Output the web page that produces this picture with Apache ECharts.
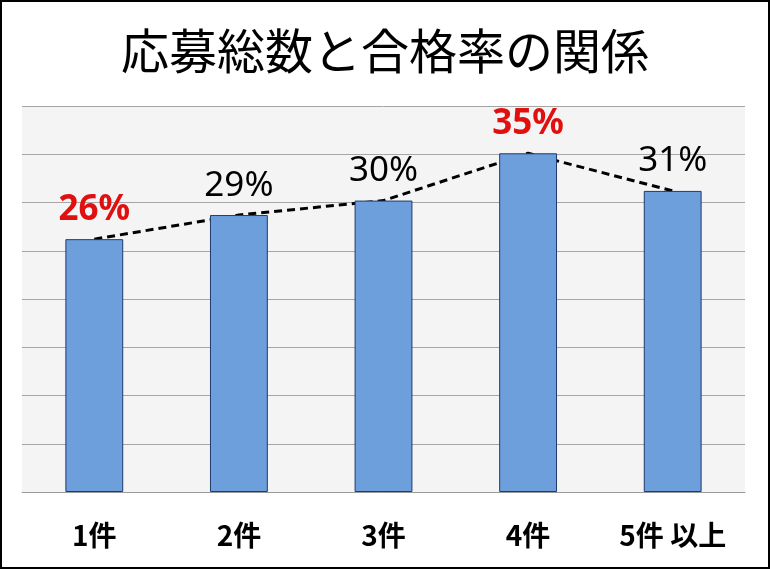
<!DOCTYPE html>
<html>
<head>
<meta charset="utf-8">
<script src="https://cdn.jsdelivr.net/npm/echarts@6/dist/echarts.min.js"></script>
<style>
html,body{margin:0;padding:0;background:#fff;}
#c{width:770px;height:569px;}
</style>
</head>
<body>
<div id="c"></div>
<script>
const titleText = '応募総数と合格率の関係';
const categories = ['1件', '2件', '3件', '4件', '5件 以上'];
const passRates = [26.2, 28.7, 30.2, 35.1, 31.2];
const yTicks = [0, 5, 10, 15, 20, 25, 30, 35, 40];

const maxV = Math.max(...passRates);
const minV = Math.min(...passRates);

const barData = passRates.map(v => {
  const hi = (v === maxV || v === minV);
  return {
    value: v,
    label: hi ? { color: '#e01010', fontWeight: 'bold' } : { color: '#000', fontWeight: 'normal' }
  };
});

const chart = echarts.init(document.getElementById('c'));
chart.setOption({
  backgroundColor: '#fff',
  animation: false,
  title: {
    text: titleText,
    left: 'center',
    top: 22,
    textStyle: {
      fontFamily: '"Noto Sans CJK JP"',
      fontSize: 48,
      fontWeight: 'normal',
      color: '#000'
    }
  },
  grid: {
    left: 22, right: 25, top: 106, bottom: 77,
    show: true, backgroundColor: '#f4f4f4', borderWidth: 0
  },
  xAxis: {
    type: 'category',
    data: categories,
    axisTick: { show: false },
    axisLine: { show: true, lineStyle: { color: '#9a9a9a', width: 1 } },
    axisLabel: {
      margin: 29,
      fontFamily: '"Noto Sans CJK JP"',
      fontSize: 28,
      fontWeight: 'bold',
      color: '#000'
    }
  },
  yAxis: {
    type: 'value',
    min: yTicks[0],
    max: yTicks[yTicks.length - 1],
    interval: yTicks[1] - yTicks[0],
    axisLabel: { show: false },
    axisLine: { show: false },
    axisTick: { show: false },
    splitLine: { show: true, lineStyle: { color: '#a6a6a6', width: 1 } }
  },
  graphic: [{
    type: 'rect',
    shape: { x: 1, y: 1, width: 768, height: 567 },
    style: { fill: 'none', stroke: '#000', lineWidth: 2 },
    silent: true
  }],
  series: [
    {
      type: 'line',
      data: passRates,
      z: 1,
      symbol: 'none',
      lineStyle: { color: '#000', width: 3, type: [8, 5] }
    },
    {
      type: 'bar',
      data: barData,
      z: 3,
      barWidth: '40%',
      itemStyle: { color: '#6c9fdc', borderColor: '#1f3a6e', borderWidth: 1 },
      label: {
        show: true,
        position: 'top',
        distance: 12,
        fontFamily: '"Noto Sans"',
        fontSize: 35,
        formatter: p => Math.round(p.value) + '%'
      }
    }
  ]
});
</script>
</body>
</html>
